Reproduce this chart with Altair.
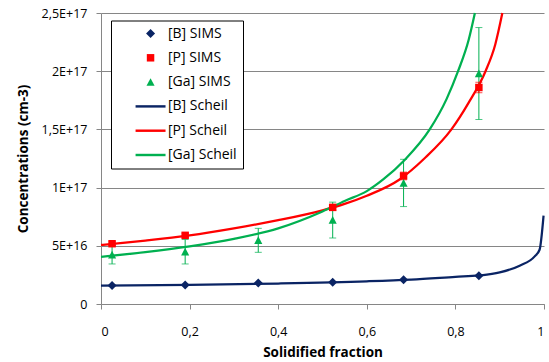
import altair as alt
import pandas as pd

# ---------------- data ----------------
series = ["[B] SIMS", "[P] SIMS", "[Ga] SIMS", "[B] Scheil", "[P] Scheil", "[Ga] Scheil"]
colors = ["#0A2464", "#FF0000", "#00B050", "#0A2464", "#FF0000", "#00B050"]

# SIMS measurements
b_x = [0.025, 0.19, 0.355, 0.523, 0.683, 0.853]
b_sims = [1.60e16, 1.63e16, 1.80e16, 1.86e16, 2.09e16, 2.43e16]

p_x = [0.025, 0.19, 0.523, 0.683, 0.853]
p_sims = [5.18e16, 5.90e16, 8.30e16, 11.0e16, 18.6e16]
p_err = [0.16e16, 0.18e16, 0.25e16, 0.33e16, 0.45e16]

ga_x = [0.025, 0.19, 0.355, 0.523, 0.683, 0.853]
ga_sims = [4.23e16, 4.49e16, 5.47e16, 7.21e16, 10.4e16, 19.8e16]
ga_err = [0.79e16, 1.05e16, 1.03e16, 1.54e16, 2.03e16, 3.95e16]

# Scheil curves
b_f = [0.0, 0.2, 0.4, 0.6, 0.7, 0.8, 0.853, 0.9, 0.945, 0.979, 0.99, 0.999]
b_scheil = [1.57e16, 1.64e16, 1.76e16, 1.95e16, 2.10e16, 2.33e16, 2.45e16,
            2.71e16, 3.29e16, 4.09e16, 4.66e16, 7.59e16]

p_f = [0.0, 0.1, 0.2, 0.3, 0.4, 0.5, 0.55, 0.6, 0.674, 0.73, 0.791, 0.83, 0.868, 0.89, 0.906]
p_scheil = [5.07e16, 5.45e16, 5.90e16, 6.50e16, 7.20e16, 8.05e16, 8.60e16, 9.30e16,
            10.7e16, 12.5e16, 15.0e16, 17.3e16, 20.0e16, 22.3e16, 25.0e16]

ga_f = [0.0, 0.1, 0.2, 0.3, 0.4, 0.5, 0.55, 0.6, 0.637, 0.686, 0.742, 0.78, 0.806, 0.83, 0.844]
ga_scheil = [4.05e16, 4.45e16, 4.95e16, 5.60e16, 6.50e16, 7.95e16, 8.85e16, 9.70e16,
             10.7e16, 12.4e16, 15.0e16, 17.6e16, 20.0e16, 22.7e16, 25.0e16]

# axes ticks / labels
x_ticks = [0.0, 0.2, 0.4, 0.6, 0.8, 1.0]
x_labels = ["0", "0,2", "0,4", "0,6", "0,8", "1"]
y_ticks = [0.0, 5e16, 1e17, 1.5e17, 2e17, 2.5e17]
y_labels = ["0", "5E+16", "1E+17", "1,5E+17", "2E+17", "2,5E+17"]

# ---------------- tables ----------------
pts = pd.DataFrame(
    [{"series": "[B] SIMS", "f": x, "c": c} for x, c in zip(b_x, b_sims)]
    + [{"series": "[P] SIMS", "f": x, "c": c} for x, c in zip(p_x, p_sims)]
    + [{"series": "[Ga] SIMS", "f": x, "c": c} for x, c in zip(ga_x, ga_sims)]
)
errs = pd.DataFrame(
    [{"series": "[Ga] SIMS", "f": x, "lo": c - e, "hi": c + e} for x, c, e in zip(ga_x, ga_sims, ga_err)]
    + [{"series": "[P] SIMS", "f": x, "lo": c - e, "hi": c + e} for x, c, e in zip(p_x, p_sims, p_err)]
)
caps = pd.concat([
    errs[["series", "f", "lo"]].rename(columns={"lo": "c"}),
    errs[["series", "f", "hi"]].rename(columns={"hi": "c"}),
])
lines = pd.DataFrame(
    [{"series": "[B] Scheil", "f": x, "c": c} for x, c in zip(b_f, b_scheil)]
    + [{"series": "[P] Scheil", "f": x, "c": c} for x, c in zip(p_f, p_scheil)]
    + [{"series": "[Ga] Scheil", "f": x, "c": c} for x, c in zip(ga_f, ga_scheil)]
)

FONT = "Open Sans"
GRAY = "#868686"


def expr(vals, labs, tol):
    parts = [f"abs(datum.value - ({v!r})) < {tol} ? '{l}'" for v, l in zip(vals, labs)]
    return " : ".join(parts) + " : ''"


x_enc = alt.X(
    "f:Q",
    scale=alt.Scale(domain=[0, 1], nice=False, zero=False),
    axis=alt.Axis(
        values=x_ticks, labelExpr=expr(x_ticks, x_labels, 1e-6), grid=False,
        domainColor=GRAY, tickColor=GRAY, tickSize=5, labelPadding=16.5,
        labelFont=FONT, labelFontSize=12.5, labelColor="black",
        title="Solidified fraction", titleFont=FONT, titleFontSize=13.5,
        titleFontWeight="bold", titleColor="black", titlePadding=7.5,
    ),
)
y_scale = alt.Scale(domain=[0, 2.5e17], nice=False, zero=True)
y_axis = alt.Axis(
    values=y_ticks, labelExpr=expr(y_ticks, y_labels, 1e10), grid=True,
    gridColor=GRAY, gridWidth=1, domainColor=GRAY, tickColor=GRAY, tickSize=5,
    labelPadding=9, labelFont=FONT, labelFontSize=12.5, labelColor="black",
    title="Concentrations (cm-3)", titleFont=FONT, titleFontSize=13.5,
    titleFontWeight="bold", titleColor="black", titlePadding=11,
)

color_scale = alt.Scale(domain=series, range=colors)

# marker shapes used in the plot (centred)
shape_range = [
    "M0,-1L1,0L0,1L-1,0Z",
    "M-0.83,-0.83H0.83V0.83H-0.83Z",
    "M0,-0.88L0.9,0.82L-0.9,0.82Z",
    "M-3.33,-0.27H3.33V0.27H-3.33Z",
    "M-3.33,-0.27H3.33V0.27H-3.33Z",
    "M-3.33,-0.27H3.33V0.27H-3.33Z",
]
# same shapes, drawn shifted to the right inside the legend box
legend_shape_range = [
    "M5.9,-1L6.9,0L5.9,1L4.9,0Z",
    "M5.07,-0.83H6.73V0.83H5.07Z",
    "M5.9,-0.88L6.8,0.82L5,0.82Z",
    "M2.57,-0.27H9.23V0.27H2.57Z",
    "M2.57,-0.27H9.23V0.27H2.57Z",
    "M2.57,-0.27H9.23V0.27H2.57Z",
]
legend = alt.Legend(
    orient="none", legendX=10, legendY=7.5, title=None,
    symbolSize=81, symbolStrokeWidth=0, symbolOpacity=1, labelOffset=37,
    padding=6, rowPadding=10.3, strokeColor="black", fillColor="white",
    labelFont=FONT, labelFontSize=14, labelColor="black",
)

line_layer = alt.Chart(lines).mark_line(strokeWidth=2.25, interpolate="monotone").encode(
    x=x_enc,
    y=alt.Y("c:Q", scale=y_scale, axis=y_axis),
    color=alt.Color("series:N", scale=color_scale, legend=None),
    detail="series:N",
)

rule_layer = alt.Chart(errs).mark_rule(strokeWidth=1).encode(
    x="f:Q",
    y="lo:Q",
    y2="hi:Q",
    color=alt.Color("series:N", scale=color_scale, legend=None),
)

cap_layer = alt.Chart(caps).mark_tick(orient="horizontal", size=7, thickness=1).encode(
    x="f:Q",
    y="c:Q",
    color=alt.Color("series:N", scale=color_scale, legend=None),
)

point_layer = alt.Chart(pts).mark_point(filled=True, size=81, opacity=1, strokeWidth=0).encode(
    x="f:Q",
    y="c:Q",
    color=alt.Color("series:N", scale=color_scale, legend=None),
    shape=alt.Shape("series:N", scale=alt.Scale(domain=series, range=shape_range), legend=None),
)

legend_layer = alt.Chart(pts).mark_point(filled=True, size=81, opacity=0, strokeWidth=0).encode(
    x="f:Q",
    y="c:Q",
    color=alt.Color("series:N", scale=color_scale, legend=legend),
    shape=alt.Shape("series:N", scale=alt.Scale(domain=series, range=legend_shape_range), legend=legend),
)

chart = (
    alt.layer(line_layer, rule_layer, cap_layer, point_layer, legend_layer)
    .resolve_scale(shape="independent")
    .resolve_legend(color="independent", shape="independent")
    .properties(
        width=443, height=291,
        padding={"left": 101, "top": 13, "right": 5, "bottom": 58},
        autosize=alt.AutoSizeParams(type="none"),
        background="white",
    )
    .configure_view(stroke=None)
)

chart.save("out.html", embed_options={"renderer": "svg", "actions": False})
